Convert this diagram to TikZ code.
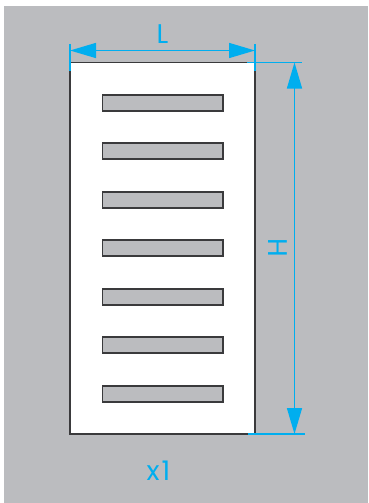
\documentclass[tikz,border=0pt]{standalone}
\usepackage{fontspec}
\setmainfont{Poppins}
\usetikzlibrary{arrows.meta}
\definecolor{panelgray}{HTML}{BBBCBF}
\definecolor{dimblue}{HTML}{00AEEF}
\definecolor{edgedark}{HTML}{3A3A3C}
\tikzset{
  plate/.style={draw=edgedark,fill=white,line width=1.3pt,minimum width=185pt,minimum height=371.5pt,inner sep=0pt,outer sep=0pt},
  slot/.style={draw=edgedark,fill=panelgray,line width=1.3pt,minimum width=120.5pt,minimum height=16pt,inner sep=0pt,outer sep=0pt},
  dimline/.style={draw=dimblue,line width=1.5pt},
  dimarrow/.style={dimline,{Triangle[length=26pt,width=15pt,fill=dimblue]}-{Triangle[length=26pt,width=15pt,fill=dimblue]}},
  dimtext/.style={text=dimblue,font=\fontsize{27}{27}\selectfont,inner sep=0pt}
}
\begin{document}
\begin{tikzpicture}[x=1pt,y=-1pt]
\useasboundingbox (0,0) rectangle (368,503);
\fill[panelgray] (4,6) rectangle (368,503);
\node[plate] (plate) at (162.5,248.25) {};
\foreach \n/\yy in {1/103,2/151,3/200,4/248,5/297,6/345,7/394}
  \node[slot] (slot\n) at (162.75,\yy) {};
\coordinate (la) at (70,50.5);
\coordinate (lb) at (255,50.5);
\coordinate (la1) at (70,44);
\coordinate (la2) at (70,71);
\coordinate (lb1) at (255,44);
\coordinate (lb2) at (255,71);
\coordinate (ha) at (294.5,62.5);
\coordinate (hb) at (294.5,434);
\coordinate (ta) at (247,62.5);
\coordinate (tb) at (302,62.5);
\coordinate (ba) at (248,434);
\coordinate (bb) at (305,434);
\draw[dimline] (la1) -- (la2);
\draw[dimline] (lb1) -- (lb2);
\draw[dimline] (ta) -- (tb);
\draw[dimline] (ba) -- (bb);
\draw[dimarrow] (la) -- (lb);
\draw[dimarrow] (ha) -- (hb);
\node[dimtext] (lenL) at (162.5,34) {L};
\node[dimtext,rotate=-90] (lenH) at (278,248) {H};
\node[dimtext] (cnt) at (158.5,471) {\addfontfeatures{LetterSpace=8}x1};
\end{tikzpicture}
\end{document}
